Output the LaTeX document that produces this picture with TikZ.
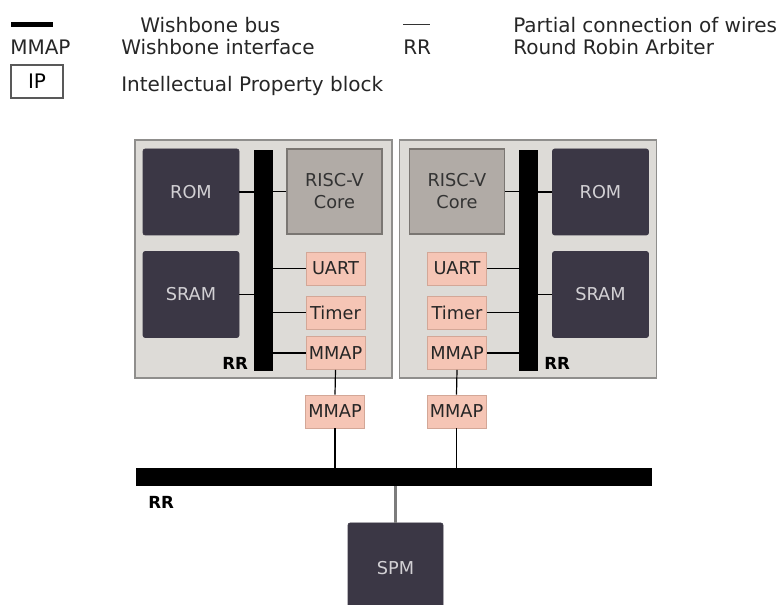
\documentclass[tikz,border=0pt]{standalone}
\usepackage{fontspec}
\setmainfont{DejaVu Sans}
\usetikzlibrary{positioning, calc}

\definecolor{tilefill}{HTML}{DDDBD7}
\definecolor{tileedge}{HTML}{8F8E8C}
\definecolor{memfill}{HTML}{3B3745}
\definecolor{memtext}{HTML}{D2D0D4}
\definecolor{corefill}{HTML}{B1ABA6}
\definecolor{coreedge}{HTML}{7A7672}
\definecolor{periphfill}{HTML}{F5C5B5}
\definecolor{periphedge}{HTML}{D3A797}
\definecolor{spmwire}{HTML}{7C7C7C}

\begin{document}
\begin{tikzpicture}[x=0.75pt,y=-0.75pt,
  blk/.style={inner sep=0pt, font=\fontsize{13.3}{16.5}\selectfont},
  memblk/.style={blk, fill=memfill, draw=memfill, rounded corners=1.5pt, text=memtext,
    minimum width=72pt, minimum height=64.5pt},
  coreblk/.style={blk, fill=corefill, draw=coreedge, line width=0.9pt, text=black!80,
    align=center, minimum width=71.25pt, minimum height=63.75pt},
  periph/.style={blk, fill=periphfill, draw=periphedge, line width=0.7pt, text=black!85,
    minimum width=44.25pt, minimum height=24.75pt},
  tile/.style={fill=tilefill, draw=tileedge, line width=0.9pt, inner sep=0pt,
    minimum width=192.75pt, minimum height=178.5pt},
  wbbus/.style={fill=black, inner sep=0pt},
  rr/.style={inner sep=0pt, anchor=base west, font=\bfseries\fontsize{12.5}{15}\selectfont},
  legend/.style={inner sep=0pt, anchor=base west, text=black!85, font=\fontsize{15}{18}\selectfont},
  wire/.style={line width=0.9pt}]
  \useasboundingbox (0,0) rectangle (782,605);

  % legend
  \draw[line width=3.75pt] (11,25) -- (53,25);
  \node[legend] (lgbus) at (140,33) {Wishbone bus};
  \node[legend] (lgmmap) at (10,55) {MMAP};
  \node[legend] (lgwbif) at (121,55) {Wishbone interface};
  \node[draw=black!65, line width=0.9pt, fill=white, inner sep=0pt, minimum width=39pt,
    minimum height=24.75pt, font=\fontsize{15}{18}\selectfont] (lgip) at (37,81.5) {IP};
  \node[legend] (lgipt) at (121,92) {Intellectual Property block};
  \draw[line width=0.75pt, black!80] (403,25) -- (430,25);
  \node[legend] (lgpart) at (513,33) {Partial connection of wires};
  \node[legend] (lgrr) at (403,55) {RR};
  \node[legend] (lgrrt) at (513,55) {Round Robin Arbiter};

  % left tile
  \node[tile] (tileL) at (263.5,259) {};
  \node[memblk] (romL) at (191,192) {ROM};
  \node[memblk] (sramL) at (191,294.5) {SRAM};
  \node[wbbus, minimum width=14.25pt, minimum height=165.75pt] (busL) at (263.5,260.5) {};
  \node[coreblk] (coreL) at (334.5,191.5) {RISC-V\\Core};
  \node[periph] (uartL) at (335.5,268.5) {UART};
  \node[periph] (timerL) at (335.5,312.5) {Timer};
  \node[periph] (mmapL) at (335.5,353) {MMAP};
  \node[rr] (rrL) at (222,370) {RR};

  % right tile
  \node[tile] (tileR) at (528,259) {};
  \node[coreblk] (coreR) at (457,191.5) {RISC-V\\Core};
  \node[wbbus, minimum width=14.25pt, minimum height=165.75pt] (busR) at (528.5,260.5) {};
  \node[memblk] (romR) at (600.5,192) {ROM};
  \node[memblk] (sramR) at (600.5,294.5) {SRAM};
  \node[periph] (uartR) at (457,268.5) {UART};
  \node[periph] (timerR) at (457,312.5) {Timer};
  \node[periph] (mmapR) at (457,353) {MMAP};
  \node[rr] (rrR) at (544,370) {RR};

  \draw[wire] (romL.east) -- (romL.east -| busL.west);
  \draw[wire] (sramL.east) -- (sramL.east -| busL.west);
  \draw[wire] (coreL.west) -- (coreL.west -| busL.east);
  \draw[wire] (uartL.west) -- (uartL.west -| busL.east);
  \draw[wire] (timerL.west) -- (timerL.west -| busL.east);
  \draw[wire] (mmapL.west) -- (mmapL.west -| busL.east);

  \draw[wire] (coreR.east) -- (coreR.east -| busR.west);
  \draw[wire] (uartR.east) -- (uartR.east -| busR.west);
  \draw[wire] (timerR.east) -- (timerR.east -| busR.west);
  \draw[wire] (mmapR.east) -- (mmapR.east -| busR.west);
  \draw[wire] (romR.west) -- (romR.west -| busR.east);
  \draw[wire] (sramR.west) -- (sramR.west -| busR.east);

  % shared bus
  \node[periph] (mmapTL) at (335,411.5) {MMAP};
  \node[periph] (mmapTR) at (456.5,411.5) {MMAP};
  \node[wbbus, minimum width=387pt, minimum height=13.5pt] (mainbus) at (394,477) {};
  \node[rr] (rrM) at (148,509) {RR};
  \node[memblk, minimum width=71.25pt, minimum height=67.5pt] (spm) at (395.5,568) {SPM};

  \draw[wire] (mmapL.south) -- (mmapTL.north);
  \draw[wire] (mmapR.south) -- (mmapTR.north);
  \draw[wire] (mmapTL.south) -- (mmapTL.south |- mainbus.north);
  \draw[wire] (mmapTR.south) -- (mmapTR.south |- mainbus.north);
  \draw[line width=1.6pt, spmwire] (spm.north) -- (spm.north |- mainbus.south);
\end{tikzpicture}
\end{document}
